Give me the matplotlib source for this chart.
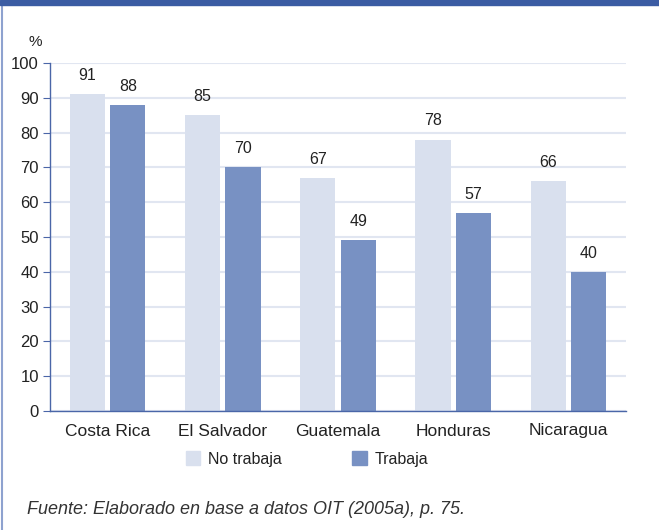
import matplotlib
matplotlib.use("Agg")
import matplotlib.pyplot as plt
import numpy as np
from matplotlib.patches import Rectangle
from matplotlib.lines import Line2D

categories = ["Costa Rica", "El Salvador", "Guatemala", "Honduras", "Nicaragua"]
no_trabaja = [91, 85, 67, 78, 66]
trabaja = [88, 70, 49, 57, 40]
yticks = [0, 10, 20, 30, 40, 50, 60, 70, 80, 90, 100]
series_names = ["No trabaja", "Trabaja"]

plt.rcParams['font.family'] = ['Liberation Sans', 'DejaVu Sans']

light = "#d9e0ee"
dark = "#7891c3"
spine_c = "#4a66a8"
grid_c = "#e1e6f1"
text_c = "#222222"

fig = plt.figure(figsize=(6.59, 5.30), dpi=100)
ax = fig.add_axes([50/659, 1 - 411/530, (626-50)/659, (411-63)/530])

x = np.arange(len(categories))
w = 0.305
off = 0.175
b1 = ax.bar(x - off, no_trabaja, w, color=light, zorder=2)
b2 = ax.bar(x + off, trabaja, w, color=dark, zorder=2)
for bars, vals in ((b1, no_trabaja), (b2, trabaja)):
    for r, v in zip(bars, vals):
        ax.annotate(f"{v}", (r.get_x() + r.get_width()/2, v), xytext=(0, 8),
                    textcoords="offset points", ha="center", va="bottom",
                    fontsize=11.5, color=text_c)

ax.set_xlim(-0.5, len(categories) - 0.5)
ax.set_ylim(0, 100)
ax.set_yticks(yticks)
ax.set_yticklabels([str(t) for t in yticks])
ax.set_xticks(x)
ax.set_xticklabels(categories)
ax.yaxis.grid(True, color=grid_c, linewidth=1.5, zorder=0)
ax.set_axisbelow(True)
for s in ("top", "right"):
    ax.spines[s].set_visible(False)
for s in ("left", "bottom"):
    ax.spines[s].set_color(spine_c)
    ax.spines[s].set_linewidth(1.0)
ax.tick_params(axis="y", length=5, color=spine_c, labelsize=12, labelcolor=text_c, pad=3)
ax.tick_params(axis="x", length=0, labelsize=12.5, labelcolor=text_c, pad=9)

fig.text(35/659, 1 - 42/530, "%", ha="center", va="center", fontsize=11, color=text_c)

# legend
handles = [Rectangle((0, 0), 1, 1, color=light), Rectangle((0, 0), 1, 1, color=dark)]
fig.legend(handles, series_names, loc="center", bbox_to_anchor=(0.466, 1 - 459/530),
           ncol=2, frameon=False, fontsize=11.5, handlelength=0.9, handleheight=0.9,
           columnspacing=4.4, handletextpad=0.5, labelcolor=text_c)

# frame decorations
fig.add_artist(Rectangle((0, 1 - 5/530), 1, 5/530, transform=fig.transFigure,
                         color="#3b5ca3", zorder=5))
fig.add_artist(Line2D([2/659, 2/659], [0, 1 - 5/530], transform=fig.transFigure,
                      color="#8ea2cf", linewidth=1.5))

fig.text(27/659, 1 - 509/530, "Fuente: Elaborado en base a datos OIT (2005a), p. 75.",
         ha="left", va="center", fontsize=13, style="italic", color="#333333")

fig.savefig("out.png", dpi=100)
